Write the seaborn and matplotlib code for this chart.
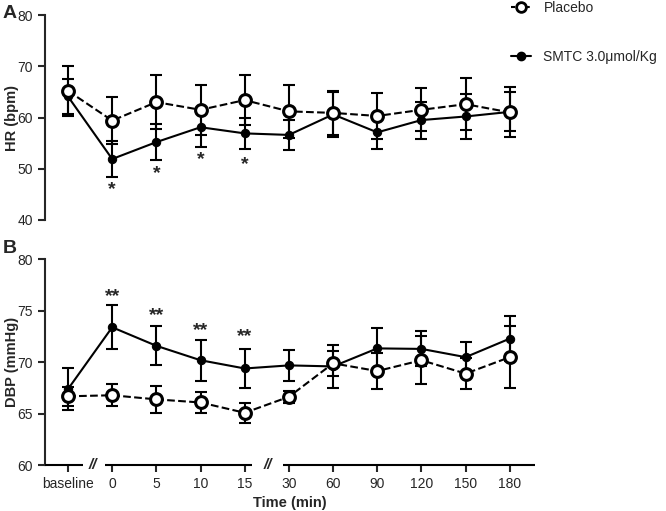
import numpy as np
import pandas as pd
import matplotlib
matplotlib.use("Agg")
import matplotlib.pyplot as plt
from matplotlib.lines import Line2D
import seaborn as sns

sns.set_style("ticks")
plt.rcParams['font.family'] = ['Liberation Sans', 'DejaVu Sans']

# ---- data ----
time_labels = ['baseline', '0', '5', '10', '15', '30', '60', '90', '120', '150', '180']

hr_placebo = [65.2, 59.4, 63.0, 61.5, 63.4, 61.2, 60.9, 60.3, 61.5, 62.6, 61.0]
hr_placebo_sem = [4.9, 4.6, 5.2, 4.9, 4.9, 5.2, 4.3, 4.4, 4.2, 5.1, 4.9]
hr_smtc = [64.1, 51.9, 55.2, 58.1, 56.9, 56.6, 60.6, 57.1, 59.5, 60.2, 61.1]
hr_smtc_sem = [3.5, 3.5, 3.5, 3.8, 3.1, 2.9, 4.4, 3.3, 3.6, 4.3, 3.8]

dbp_placebo = [66.7, 66.8, 66.4, 66.1, 65.1, 66.65, 69.9, 69.15, 70.2, 68.9, 70.5]
dbp_placebo_sem = [0.9, 1.05, 1.3, 1.05, 0.95, 0.6, 1.2, 1.75, 2.35, 1.5, 3.0]
dbp_smtc = [67.4, 73.4, 71.6, 70.2, 69.4, 69.7, 69.6, 71.35, 71.3, 70.5, 72.3]
dbp_smtc_sem = [2.0, 2.15, 1.9, 2.0, 1.9, 1.5, 2.1, 2.0, 1.7, 1.5, 2.2]

hr_sig_idx = [1, 2, 3, 4]
hr_sig_y = [45.9, 49.0, 51.7, 50.9]
dbp_sig_idx = [1, 2, 3, 4]
dbp_sig_y = [76.4, 74.5, 73.1, 72.45]

labels = ['Placebo', 'SMTC 3.0\u03bcmol/Kg']

pos = np.arange(len(time_labels))

fig = plt.figure(figsize=(6.66, 5.11), dpi=100)
axA = fig.add_axes([0.0676, 0.5695, 0.7357, 0.4011])
axB = fig.add_axes([0.0676, 0.0894, 0.7357, 0.4032])

LW = 1.5


def draw(ax, plc, plc_sem, smt, smt_sem):
    # error bars
    ax.errorbar(pos, smt, yerr=smt_sem, fmt='none', ecolor='black',
                elinewidth=LW, capsize=4, capthick=LW, zorder=2)
    ax.errorbar(pos, plc, yerr=plc_sem, fmt='none', ecolor='black',
                elinewidth=LW, capsize=4, capthick=LW, zorder=2)
    sns.lineplot(x=pos, y=smt, ax=ax, color='black', linewidth=LW,
                 marker='o', markersize=6, markerfacecolor='black',
                 markeredgecolor='black', zorder=3)
    sns.lineplot(x=pos, y=plc, ax=ax, color='black', linewidth=LW,
                 linestyle='--', dashes=(4, 2.5), marker='o', markersize=8.5,
                 markerfacecolor='white', markeredgecolor='black',
                 markeredgewidth=2.2, zorder=4)


draw(axA, hr_placebo, hr_placebo_sem, hr_smtc, hr_smtc_sem)
draw(axB, dbp_placebo, dbp_placebo_sem, dbp_smtc, dbp_smtc_sem)

XL = (-0.52, 10.57)
for ax in (axA, axB):
    ax.set_xlim(*XL)
    for s in ('top', 'right'):
        ax.spines[s].set_visible(False)
    ax.spines['left'].set_linewidth(LW)
    ax.tick_params(axis='both', width=LW, length=5, labelsize=10, direction='out')

# panel A
axA.set_ylim(40, 80)
axA.set_yticks([40, 50, 60, 70, 80])
axA.spines['bottom'].set_visible(False)
axA.set_xticks([])
axA.set_ylabel('HR (bpm)', fontsize=10.5, fontweight='bold')
axA.yaxis.set_label_coords(-0.053, 0.5)
for i, y in zip(hr_sig_idx, hr_sig_y):
    axA.text(pos[i], y, '*', ha='center', va='center', fontsize=14, fontweight='bold')

# panel B
axB.set_ylim(60, 80)
axB.set_yticks([60, 65, 70, 75, 80])
axB.spines['bottom'].set_visible(False)
axB.set_xticks(pos)
axB.set_xticklabels(time_labels)
axB.set_ylabel('DBP (mmHg)', fontsize=10.5, fontweight='bold')
axB.yaxis.set_label_coords(-0.053, 0.5)
axB.set_xlabel('Time (min)', fontsize=10.5, fontweight='bold')
axB.xaxis.set_label_coords(0.5, -0.15)
for i, y in zip(dbp_sig_idx, dbp_sig_y):
    axB.text(pos[i], y, '**', ha='center', va='center', fontsize=14, fontweight='bold')

# broken x axis
segments = [(-0.52, 0.34), (0.84, 4.16), (4.86, 10.57)]
for a, b in segments:
    axB.plot([a, b], [60, 60], color='black', linewidth=LW, clip_on=False,
             solid_capstyle='butt', zorder=5)
for bx in (0.56, 4.52):
    axB.text(bx, 60, '//', ha='center', va='center', fontsize=11, style='italic',
             fontweight='bold')

# panel letters
fig.text(0.004, 0.99, 'A', fontsize=14, fontweight='bold', va='top', ha='left')
fig.text(0.004, 0.53, 'B', fontsize=14, fontweight='bold', va='top', ha='left')

# legend
handles = [
    Line2D([], [], color='black', linestyle='--', dashes=(2, 1.5), linewidth=LW, marker='o',
           markersize=7, markerfacecolor='white', markeredgecolor='black', markeredgewidth=2),
    Line2D([], [], color='black', linestyle='-', linewidth=LW, marker='o',
           markersize=6, markerfacecolor='black', markeredgecolor='black'),
]
fig.legend(handles, labels, loc='upper left', bbox_to_anchor=(0.768, 0.998),
           frameon=False, fontsize=10, handlelength=1.4, handletextpad=0.9,
           labelspacing=2.5, borderaxespad=0, borderpad=0.0)

fig.savefig('out.png', dpi=100)
